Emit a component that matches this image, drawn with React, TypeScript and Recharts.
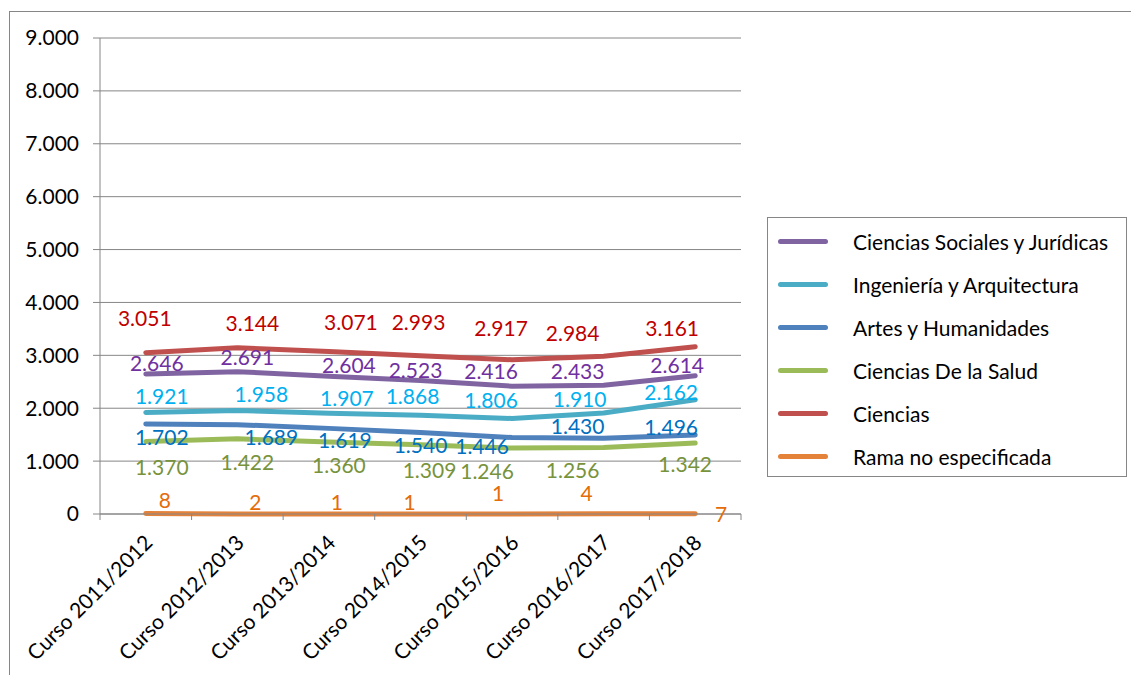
import { LineChart, Line, XAxis, YAxis, CartesianGrid } from 'recharts'

const cursos = [
  'Curso 2011/2012',
  'Curso 2012/2013',
  'Curso 2013/2014',
  'Curso 2014/2015',
  'Curso 2015/2016',
  'Curso 2016/2017',
  'Curso 2017/2018',
]
const sociales = [2646, 2691, 2604, 2523, 2416, 2433, 2614]
const ingenieria = [1921, 1958, 1907, 1868, 1806, 1910, 2162]
const artes = [1702, 1689, 1619, 1540, 1446, 1430, 1496]
const salud = [1370, 1422, 1360, 1309, 1246, 1256, 1342]
const ciencias = [3051, 3144, 3071, 2993, 2917, 2984, 3161]
const rama = [8, 2, 1, 1, 1, 4, 7]
const yTicks = [0, 1000, 2000, 3000, 4000, 5000, 6000, 7000, 8000, 9000]

// where Excel dropped each data label, relative to its point
const offSociales = { dx: [11, 10, 20, -5, -21, -26, -18], dy: [-12, -15, -12, -11, -16, -15, -11] }
const offIngenieria = { dx: [16, 24, 18, -8, -21, -24, -24], dy: [-17, -17, -16, -20, -19, -14, -8] }
const offArtes = { dx: [16, 34, 16, 0, -30, -26, -24], dy: [13, 12, 11, 12, 8, -13, -8] }
const offSalud = { dx: [16, 10, 10, 9, -25, -31, -10], dy: [25, 23, 22, 25, 22, 22, 20] }
const offCiencias = { dx: [-1, 15, 22, -2, -11, -31, -23], dy: [-35, -25, -30, -34, -32, -24, -19] }
const offRama = { dx: [19, 18, 8, -11, -14, -17, 26], dy: [-14, -12, -12, -12, -21, -21, 0] }

const FONT = 'Lato, "Open Sans", sans-serif'
const FS = 21
const GRID = '#868686'
const PLOT_LEFT = 100
const PLOT_RIGHT = 741
const STEP = (PLOT_RIGHT - PLOT_LEFT) / cursos.length

const series = [
  { key: 'sociales', name: 'Ciencias Sociales y Jurídicas', color: '#8064A2', text: '#7030A0', off: offSociales },
  { key: 'ingenieria', name: 'Ingeniería y Arquitectura', color: '#4BACC6', text: '#00B0F0', off: offIngenieria },
  { key: 'artes', name: 'Artes y Humanidades', color: '#4F81BD', text: '#0070C0', off: offArtes },
  { key: 'salud', name: 'Ciencias De la Salud', color: '#9BBB59', text: '#77933C', off: offSalud },
  { key: 'ciencias', name: 'Ciencias', color: '#C0504D', text: '#C00000', off: offCiencias },
  { key: 'rama', name: 'Rama no especificada', color: '#E5823A', text: '#E46C0A', off: offRama },
]

const data = cursos.map((c, i) => ({
  curso: c,
  sociales: sociales[i],
  ingenieria: ingenieria[i],
  artes: artes[i],
  salud: salud[i],
  ciencias: ciencias[i],
  rama: rama[i],
}))

function fmt(v: number) {
  return String(v).replace(/\B(?=(\d{3})+(?!\d))/g, '.')
}

const makeLabel = (color: string, off: { dx: number[]; dy: number[] }) => (props: any) => {
  const { x, y, index, value } = props
  return (
    <text
      key={index}
      x={x + off.dx[index]}
      y={y + off.dy[index]}
      textAnchor="middle"
      dominantBaseline="central"
      fill={color}
      fontSize={FS}
      fontFamily={FONT}
    >
      {fmt(value)}
    </text>
  )
}

const CursoTick = (props: any) => {
  const { x, y, payload, index } = props
  const axisY = y - 8
  const tx = x + 8
  const ty = axisY + 30
  return (
    <g>
      <line x1={x - STEP / 2} y1={axisY} x2={x - STEP / 2} y2={axisY + 6} stroke={GRID} />
      {index === cursos.length - 1 && (
        <line x1={x + STEP / 2} y1={axisY} x2={x + STEP / 2} y2={axisY + 6} stroke={GRID} />
      )}
      <text
        x={tx}
        y={ty}
        transform={`rotate(-45 ${tx} ${ty})`}
        textAnchor="end"
        fontSize={FS}
        fontFamily={FONT}
        fill="#000"
      >
        {payload.value}
      </text>
    </g>
  )
}

export default function App() {
  return (
    <div
      style={{
        position: 'absolute',
        left: 0,
        top: 0,
        width: 1131,
        height: 675,
        overflow: 'hidden',
        background: '#fff',
        fontFamily: FONT,
      }}
    >
      <div
        style={{
          position: 'absolute',
          left: 9,
          top: 11,
          width: 1200,
          height: 800,
          border: `1px solid ${GRID}`,
        }}
      />
      <div style={{ position: 'absolute', left: 0, top: 0 }}>
        <LineChart
          width={1131}
          height={675}
          data={data}
          margin={{ top: 38, right: 1131 - PLOT_RIGHT, bottom: 0, left: 0 }}
        >
          <CartesianGrid vertical={false} stroke={GRID} strokeWidth={1} />
          <XAxis
            dataKey="curso"
            interval={0}
            height={161}
            stroke={GRID}
            tickLine={false}
            padding={{ left: STEP / 2, right: STEP / 2 }}
            tick={<CursoTick />}
          />
          <YAxis
            domain={[0, 9000]}
            ticks={yTicks}
            width={PLOT_LEFT}
            stroke={GRID}
            tickSize={7}
            tickMargin={14}
            tickFormatter={fmt}
            tick={{ fill: '#000', fontSize: FS, fontFamily: FONT }}
          />
          {series.map((s) => (
            <Line
              key={s.key}
              dataKey={s.key}
              name={s.name}
              stroke={s.color}
              strokeWidth={5}
              strokeLinecap="round"
              strokeLinejoin="round"
              dot={false}
              isAnimationActive={false}
              label={makeLabel(s.text, s.off)}
            />
          ))}
        </LineChart>
      </div>
      <div
        style={{
          position: 'absolute',
          left: 767,
          top: 217,
          width: 360,
          height: 260,
          border: `1px solid ${GRID}`,
          boxSizing: 'border-box',
        }}
      >
        {series.map((s, i) => (
          <div
            key={s.key}
            style={{
              position: 'absolute',
              left: 10,
              top: 23 + i * 43 - 13,
              height: 26,
              display: 'flex',
              alignItems: 'center',
              whiteSpace: 'nowrap',
            }}
          >
            <div style={{ width: 50, height: 5, borderRadius: 3, background: s.color }} />
            <span style={{ marginLeft: 25, fontSize: FS, color: '#000' }}>{s.name}</span>
          </div>
        ))}
      </div>
    </div>
  )
}
